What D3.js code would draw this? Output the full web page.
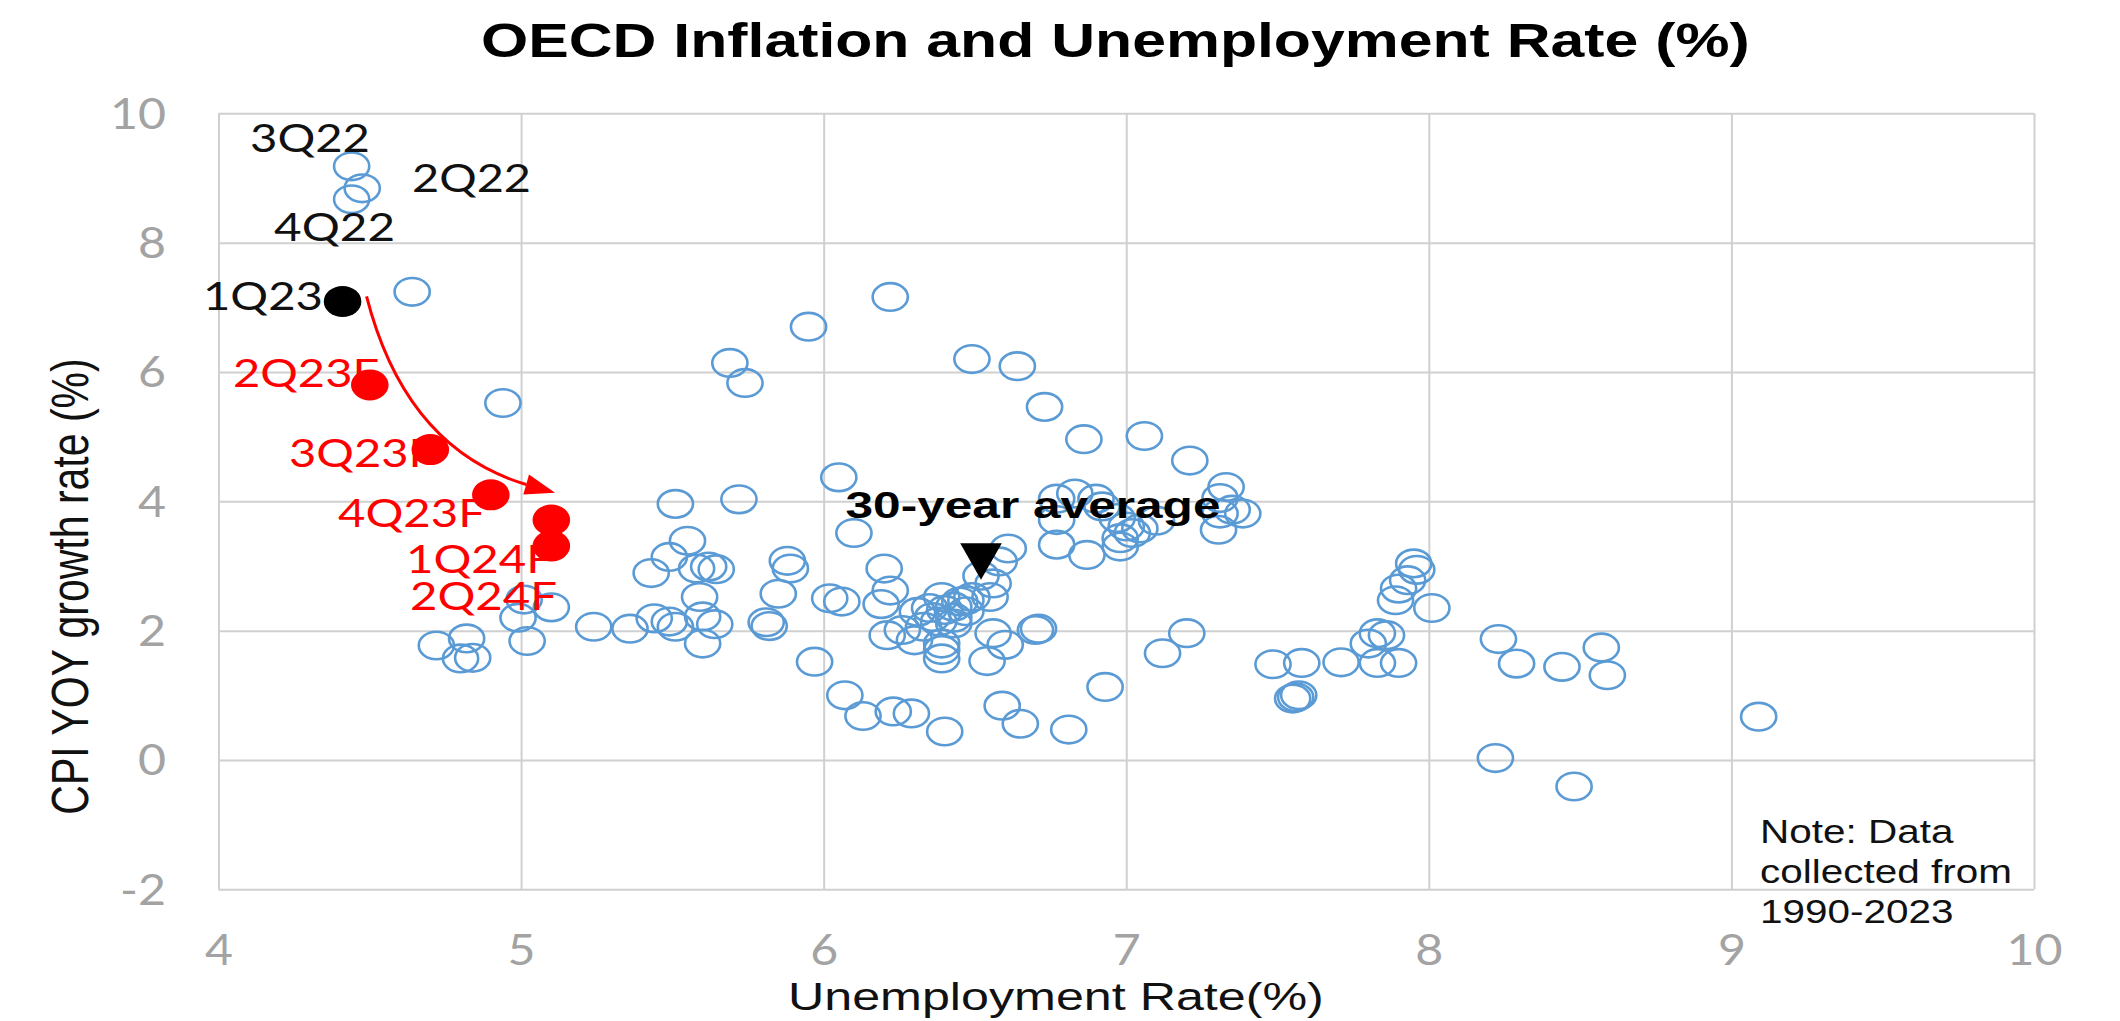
<!DOCTYPE html>
<html>
<head>
<meta charset="utf-8">
<script src="https://cdn.jsdelivr.net/npm/d3@7"></script>
<style>
  html, body { margin: 0; padding: 0; background: #ffffff; }
  svg { display: block; }
</style>
</head>
<body>
<svg id="chart" width="2120" height="1021"></svg>
<script>
// ---------------- DATA ----------------
const chartTitle = "OECD Inflation and Unemployment Rate (%)";
const xAxisTitle = "Unemployment Rate(%)";
const yAxisTitle = "CPI YOY growth rate (%)";
const noteLines = ["Note: Data", "collected from", "1990-2023"];
const averageLabel = "30-year average";

const xTicks = [4, 5, 6, 7, 8, 9, 10];
const yTicks = [-2, 0, 2, 4, 6, 8, 10];
const xTickLabels = ["4", "5", "6", "7", "8", "9", "10"];
const yTickLabels = ["-2", "0", "2", "4", "6", "8", "10"];

// Historical quarterly observations 1990-2023 (unemployment %, CPI YoY %)
const histUnemp = [
  4.64,4.94,4.72,4.82,4.80,4.84,5.01,4.99,5.02,5.10,
  5.24,5.36,5.44,5.49,5.51,5.43,5.49,5.51,5.55,5.58,
  5.62,5.645,5.59,5.60,5.64,5.60,5.69,5.74,5.72,5.95,
  6.22,6.05,6.10,5.88,5.89,5.85,5.81,5.82,5.97,6.02,
  6.06,6.07,6.13,6.23,6.29,6.40,6.59,6.65,6.81,6.93,
  6.20,6.22,6.19,6.21,6.26,6.30,6.31,6.33,6.36,6.39,
  6.40,6.43,6.45,6.47,6.49,6.38,6.43,6.39,6.39,6.39,
  6.55,6.56,6.56,6.60,6.54,6.70,6.71,6.52,6.58,6.61,
  6.49,6.64,6.73,6.86,7.06,7.21,6.77,6.83,6.90,6.92,
  6.97,7.00,7.02,6.98,6.77,6.77,6.87,6.98,7.045,7.10,
  7.33,7.31,7.35,7.385,7.31,7.305,7.20,7.12,7.485,7.58,
  7.55,7.57,7.56,7.71,7.80,7.83,7.86,7.83,7.90,7.95,
  7.96,7.93,7.90,7.89,8.01,8.23,8.29,8.44,8.57,8.59,
  9.09,8.48,8.22,6.43,6.47,6.35
];
const histCPI = [
  7.24,5.52,1.77,1.88,1.57,1.58,2.48,2.20,1.84,2.36,
  2.06,2.03,2.19,2.14,2.06,2.89,3.14,3.96,3.39,2.96,
  2.99,2.95,2.52,2.22,2.10,1.80,6.14,5.83,4.03,6.70,
  7.16,4.37,3.51,3.08,2.96,2.57,2.13,2.07,1.52,2.50,
  2.45,1.00,0.68,0.75,0.72,0.44,0.84,0.56,0.47,1.13,
  2.96,2.62,2.41,1.93,2.01,1.85,2.29,2.06,2.21,2.52,
  2.32,2.37,2.45,2.47,2.52,2.14,2.11,1.80,1.57,1.70,
  2.52,2.73,1.96,1.78,1.53,2.01,2.03,2.85,3.07,3.27,
  6.20,6.09,5.46,4.96,5.01,4.63,4.04,4.12,4.04,3.92,
  3.74,3.61,3.51,3.43,3.71,3.33,3.17,3.30,3.58,3.70,
  4.22,4.05,3.87,3.81,3.81,3.56,1.96,1.65,1.48,1.50,
  0.95,1.00,0.97,1.51,1.80,1.96,1.93,1.50,1.50,3.04,
  2.94,2.78,2.65,2.47,2.35,1.87,1.49,1.44,1.74,1.31,
  0.67,-0.41,0.03,2.20,2.30,2.35
];

// Labelled recent quarters (historical, hollow markers)
const recentQuarters = ["3Q22", "2Q22", "4Q22"];
const recentUnemp = [4.44, 4.475, 4.44];
const recentCPI = [9.18, 8.84, 8.67];

// Latest actual quarter (black)
const actualQuarters = ["1Q23"];
const actualUnemp = [4.41];
const actualCPI = [7.09];

// Forecast quarters (red)
const forecastQuarters = ["2Q23F", "3Q23F", "4Q23F", "1Q24F", "2Q24F"];
const forecastUnemp = [4.50, 4.70, 4.90, 5.10, 5.10];
const forecastCPI = [5.80, 4.80, 4.10, 3.71, 3.31];

// 30-year average
const averageUnemp = [6.52];
const averageCPI = [3.07];

// ---------------- LAYOUT / STYLE ----------------
const W = 2120, H = 1021;
const plot = { left: 218.5, right: 2034, top: 113.3, bottom: 889.3 };
const SANS = "'Liberation Sans', Arial, Helvetica, sans-serif";
const LABF = "Lato, 'Liberation Sans', sans-serif";
const BLUE = "#5b9bd5";
const GRID = "#d0d0d0";
const TICKC = "#a3a3a3";
const STRETCH = 1.25;

// label placement (pixel offsets from the marker, target width)
const labelPlacement = {
  "3Q22":  { dx: -101.6, dy: -14.6, w: 120 },
  "2Q22":  { dx: 49.8,   dy: 3.4,   w: 119 },
  "4Q22":  { dx: -77.6,  dy: 41.4,  w: 121 },
  "1Q23":  { dx: -139.6, dy: 8.5,   w: 120 },
  "2Q23F": { dx: -136.8, dy: 1.8,   w: 146 },
  "3Q23F": { dx: -141.3, dy: 17.1,  w: 146 },
  "4Q23F": { dx: -152.8, dy: 31.9,  w: 147 },
  "1Q24F": { dx: -145.3, dy: 52.6,  w: 147 },
  "2Q24F": { dx: -141.3, dy: 63.8,  w: 147 }
};

const x = d3.scaleLinear().domain([4, 10]).range([plot.left, plot.right]);
const y = d3.scaleLinear().domain([-2, 10]).range([plot.bottom, plot.top]);

const svg = d3.select("#chart");
svg.append("rect").attr("width", W).attr("height", H).attr("fill", "#ffffff");

function addText(parent, str, px, py, o) {
  const t = parent.append("text").text(str)
    .attr("font-family", o.family || SANS)
    .attr("font-size", o.size)
    .attr("font-weight", o.weight || "normal")
    .attr("fill", o.fill || "#000")
    .attr("text-anchor", o.anchor || "start");
  let sx = o.sx || 1;
  if (o.width) {
    const len = t.node().getComputedTextLength();
    if (len > 0) sx = o.width / len;
  }
  t.attr("transform", `translate(${px},${py}) scale(${sx},1)` + (o.rotate ? ` rotate(${o.rotate})` : ""));
  return t;
}

// ---------------- AXES / GRID ----------------
const gx = svg.append("g")
  .attr("transform", `translate(0,${plot.bottom})`)
  .call(d3.axisBottom(x).tickValues(xTicks).tickSize(-(plot.bottom - plot.top))
    .tickFormat((d, i) => xTickLabels[i]));
gx.select(".domain").remove();
gx.selectAll(".tick line").attr("stroke", GRID).attr("stroke-width", 2);
gx.attr("font-family", LABF).attr("font-size", 42);
gx.selectAll(".tick text")
  .attr("y", null).attr("dy", null)
  .attr("fill", TICKC)
  .attr("text-anchor", "middle")
  .attr("transform", `translate(0,${965 - plot.bottom}) scale(1.15,1)`);

const gy = svg.append("g")
  .attr("transform", `translate(${plot.left},0)`)
  .call(d3.axisLeft(y).tickValues(yTicks).tickSize(-(plot.right - plot.left))
    .tickFormat((d, i) => yTickLabels[i]));
gy.select(".domain").remove();
gy.selectAll(".tick line").attr("stroke", GRID).attr("stroke-width", 2);
gy.attr("font-family", LABF).attr("font-size", 42);
gy.selectAll(".tick text")
  .attr("x", null).attr("dy", null)
  .attr("fill", TICKC)
  .attr("text-anchor", "end")
  .attr("transform", `translate(${166 - plot.left},15) scale(1.15,1)`);

// ---------------- TITLES ----------------
addText(svg, chartTitle, 481, 56.7, { size: 49, weight: "bold", width: 1269 });
addText(svg, xAxisTitle, 788, 1010, { size: 39, width: 536, fill: "#111" });
addText(svg, yAxisTitle, 88, 586.5, { size: 41, anchor: "middle", sx: STRETCH, rotate: -90, fill: "#111" });

// note
const noteG = svg.append("g");
const noteSize = 32.5;
const probe = noteG.append("text").text(noteLines[1]).attr("font-family", SANS).attr("font-size", noteSize);
const noteSx = 252 / probe.node().getComputedTextLength();
probe.remove();
noteLines.forEach((ln, i) => addText(noteG, ln, 1760, 843.3 + i * 40, { size: noteSize, sx: noteSx, fill: "#111" }));

// ---------------- MARKS ----------------
const hist = d3.zip(histUnemp, histCPI);
svg.append("g").selectAll("ellipse").data(hist).join("ellipse")
  .attr("cx", d => x(d[0])).attr("cy", d => y(d[1]))
  .attr("rx", 17.6).attr("ry", 13.8)
  .attr("fill", "none").attr("stroke", BLUE).attr("stroke-width", 2.6);

const recent = d3.zip(recentQuarters, recentUnemp, recentCPI);
svg.append("g").selectAll("ellipse").data(recent).join("ellipse")
  .attr("cx", d => x(d[1])).attr("cy", d => y(d[2]))
  .attr("rx", 17.6).attr("ry", 13.8)
  .attr("fill", "none").attr("stroke", BLUE).attr("stroke-width", 2.6);

const actual = d3.zip(actualQuarters, actualUnemp, actualCPI);
const forecast = d3.zip(forecastQuarters, forecastUnemp, forecastCPI);

// labels (beneath filled dots)
const labG = svg.append("g");
recent.concat(actual).forEach(d => {
  const p = labelPlacement[d[0]];
  addText(labG, d[0], x(d[1]) + p.dx, y(d[2]) + p.dy, { family: LABF, size: 38, width: p.w, fill: "#111" });
});
forecast.forEach(d => {
  const p = labelPlacement[d[0]];
  addText(labG, d[0], x(d[1]) + p.dx, y(d[2]) + p.dy, { family: LABF, size: 38, width: p.w, fill: "#ff0000" });
});

// arrow from 1Q23 towards 1Q24F
const a0 = [x(actualUnemp[0]) + 24, y(actualCPI[0]) - 5];
const tip = [x(forecastUnemp[3]) + 3.7, y(forecastCPI[3]) - 27.4];
const ang = Math.atan2(8.2, 29.1);
const headLen = 30, headHalf = 10.5;
const base = [tip[0] - headLen * Math.cos(ang), tip[1] - headLen * Math.sin(ang)];
const ctrl = [a0[0] + 39, a0[1] + 152];
const arrowPath = d3.path();
arrowPath.moveTo(a0[0], a0[1]);
arrowPath.quadraticCurveTo(ctrl[0], ctrl[1], base[0], base[1]);
svg.append("path").attr("d", arrowPath.toString())
  .attr("fill", "none").attr("stroke", "#ff0000").attr("stroke-width", 3);
const nx = -Math.sin(ang), ny = Math.cos(ang);
svg.append("path")
  .attr("d", `M${tip[0]},${tip[1]}L${base[0] + nx * headHalf},${base[1] + ny * headHalf}L${base[0] - nx * headHalf},${base[1] - ny * headHalf}Z`)
  .attr("fill", "#ff0000");

// filled dots
svg.append("g").selectAll("ellipse").data(forecast).join("ellipse")
  .attr("cx", d => x(d[1])).attr("cy", d => y(d[2]))
  .attr("rx", 18.8).attr("ry", 15.5).attr("fill", "#ff0000");
svg.append("g").selectAll("ellipse").data(actual).join("ellipse")
  .attr("cx", d => x(d[1])).attr("cy", d => y(d[2]))
  .attr("rx", 18.8).attr("ry", 15.5).attr("fill", "#000000");

// 30-year average marker + label
const avg = d3.zip(averageUnemp, averageCPI);
svg.append("g").selectAll("path").data(avg).join("path")
  .attr("d", d => {
    const cx = x(d[0]), cy = y(d[1]);
    return `M${cx - 20.8},${cy - 18.3}L${cx + 20.8},${cy - 18.3}L${cx},${cy + 18.3}Z`;
  })
  .attr("fill", "#000");
addText(svg, averageLabel, x(averageUnemp[0]) - 135.5, y(averageCPI[0]) - 43.4,
  { size: 37, weight: "bold", width: 375, fill: "#000" });
</script>
</body>
</html>
